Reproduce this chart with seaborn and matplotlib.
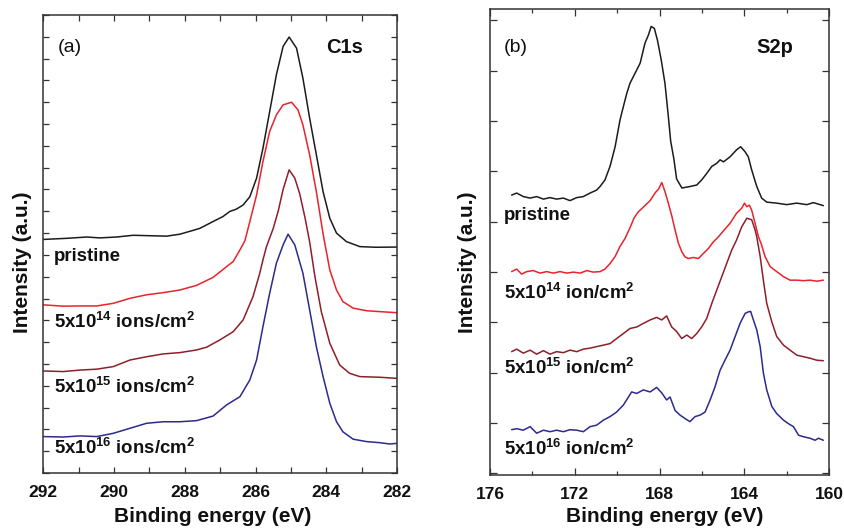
import matplotlib
matplotlib.use('Agg')
import matplotlib.pyplot as plt
import seaborn as sns
import pandas as pd
from matplotlib.ticker import MultipleLocator

# ---------------- data: C1s (panel a) ----------------
c1s_ticks = [292, 290, 288, 286, 284, 282]

c1s_pristine_E = [292.00, 291.34, 290.77, 290.40, 289.93, 289.46, 288.99, 288.51, 288.14, 287.86,
                  287.57, 287.20, 286.92, 286.73, 286.54, 286.35, 286.16, 285.97, 285.79, 285.60,
                  285.41, 285.22, 285.05, 284.84, 284.66, 284.47, 284.28, 284.09, 283.90, 283.71,
                  283.43, 283.05, 282.60, 282.00]
c1s_pristine_I = [10.71, 10.76, 10.82, 10.78, 10.82, 10.90, 10.88, 10.86, 10.95, 11.08,
                  11.22, 11.53, 11.76, 11.99, 12.10, 12.29, 12.67, 13.52, 14.89, 16.57,
                  18.26, 19.56, 19.99, 19.48, 18.10, 16.27, 14.59, 12.90, 11.68, 11.00,
                  10.61, 10.38, 10.35, 10.36]

c1s_e14_E = [292.00, 291.44, 290.96, 290.49, 290.02, 289.55, 289.08, 288.61, 288.14, 287.67,
             287.20, 286.82, 286.63, 286.44, 286.30, 286.16, 285.97, 285.79, 285.60, 285.41,
             285.22, 284.98, 284.80, 284.66, 284.47, 284.28, 284.09, 283.90, 283.71, 283.53,
             283.24, 282.86, 282.49, 282.00]
c1s_e14_I = [7.71, 7.65, 7.66, 7.66, 7.78, 8.01, 8.17, 8.27, 8.39, 8.60,
             8.97, 9.46, 9.70, 10.23, 10.65, 11.53, 12.75, 14.28, 15.66, 16.42,
             16.88, 17.00, 16.65, 15.96, 14.59, 12.90, 10.96, 9.31, 8.39, 7.86,
             7.56, 7.44, 7.40, 7.35]

c1s_e15_E = [292.00, 291.44, 290.96, 290.49, 290.02, 289.55, 289.08, 288.61, 288.14, 287.67,
             287.38, 287.01, 286.63, 286.35, 286.07, 285.88, 285.79, 285.69, 285.50, 285.36,
             285.22, 285.05, 284.89, 284.75, 284.60, 284.47, 284.32, 284.14, 283.90, 283.62,
             283.34, 283.05, 282.49, 282.00]
c1s_e15_I = [4.68, 4.65, 4.72, 4.76, 4.88, 5.18, 5.33, 5.46, 5.52, 5.64,
             5.77, 6.10, 6.48, 7.02, 8.09, 9.16, 9.77, 10.38, 11.21, 12.00,
             13.00, 13.90, 13.52, 12.80, 11.70, 10.60, 9.00, 7.40, 5.95, 4.95,
             4.57, 4.42, 4.39, 4.34]

c1s_e16_E = [292.00, 291.44, 290.96, 290.49, 290.02, 289.55, 289.08, 288.61, 288.14, 287.67,
             287.20, 286.82, 286.44, 286.16, 285.97, 285.79, 285.60, 285.41, 285.22, 285.08,
             284.89, 284.66, 284.47, 284.28, 284.09, 283.90, 283.71, 283.53, 283.24, 282.86,
             282.49, 282.20, 282.00]
c1s_e16_I = [1.67, 1.65, 1.70, 1.67, 1.82, 2.05, 2.28, 2.35, 2.35, 2.40,
             2.61, 3.12, 3.50, 4.27, 5.18, 6.71, 8.24, 9.62, 10.46, 10.95,
             10.46, 9.16, 7.48, 5.79, 4.42, 3.20, 2.35, 1.89, 1.55, 1.44,
             1.39, 1.33, 1.36]

# ---------------- data: S2p (panel b) ----------------
s2p_ticks = [176, 172, 168, 164, 160]

s2p_pristine_E = [174.98, 174.74, 174.43, 174.11, 173.80, 173.48, 173.17, 172.86, 172.54, 172.23,
                  171.91, 171.60, 171.28, 170.97, 170.81, 170.58, 170.34, 170.10, 169.87, 169.71,
                  169.55, 169.40, 169.16, 168.92, 168.69, 168.53, 168.40, 168.25, 168.10, 167.92,
                  167.75, 167.59, 167.48, 167.33, 167.20, 166.95, 166.57, 166.25, 166.02, 165.78,
                  165.54, 165.31, 165.15, 164.99, 164.68, 164.37, 164.18, 163.97, 163.82, 163.66,
                  163.42, 163.19, 162.95, 162.48, 162.01, 161.54, 161.06, 160.75, 160.28]
s2p_pristine_I = [5.53, 5.57, 5.50, 5.47, 5.50, 5.45, 5.48, 5.45, 5.47, 5.42,
                  5.48, 5.50, 5.57, 5.63, 5.70, 5.83, 6.10, 6.49, 7.02, 7.29,
                  7.55, 7.75, 7.95, 8.15, 8.55, 8.71, 8.88, 8.84, 8.60, 8.20,
                  7.75, 7.09, 6.60, 6.25, 5.85, 5.67, 5.70, 5.73, 5.83, 5.96,
                  6.10, 6.16, 6.23, 6.19, 6.29, 6.43, 6.49, 6.39, 6.29, 6.03,
                  5.70, 5.47, 5.39, 5.37, 5.34, 5.37, 5.34, 5.38, 5.32]

s2p_e14_E = [174.98, 174.74, 174.51, 174.27, 173.96, 173.64, 173.33, 173.01, 172.70, 172.38,
             172.07, 171.75, 171.44, 171.13, 170.81, 170.58, 170.34, 170.10, 169.87, 169.63,
             169.40, 169.20, 169.00, 168.77, 168.45, 168.20, 168.05, 167.90, 167.75, 167.59,
             167.43, 167.28, 167.12, 166.95, 166.80, 166.65, 166.41, 166.17, 165.94, 165.70,
             165.47, 165.23, 164.99, 164.68, 164.37, 164.13, 164.00, 163.89, 163.77, 163.66,
             163.50, 163.34, 163.20, 163.03, 162.79, 162.48, 162.16, 161.85, 161.53, 161.22,
             160.91, 160.59, 160.28]
s2p_e14_I = [4.01, 4.06, 3.96, 4.01, 4.03, 3.98, 4.01, 3.98, 4.01, 3.98,
             4.00, 3.98, 4.03, 4.00, 4.01, 4.06, 4.17, 4.31, 4.51, 4.67,
             4.88, 5.08, 5.20, 5.29, 5.42, 5.58, 5.65, 5.78, 5.60, 5.37,
             5.12, 4.85, 4.58, 4.40, 4.30, 4.27, 4.29, 4.27, 4.37, 4.47,
             4.60, 4.70, 4.82, 4.97, 5.17, 5.27, 5.37, 5.30, 5.33, 5.23,
             4.97, 4.70, 4.55, 4.31, 4.11, 4.01, 3.91, 3.84, 3.84, 3.83,
             3.84, 3.82, 3.84]

s2p_e15_E = [174.98, 174.74, 174.43, 174.11, 173.80, 173.48, 173.17, 172.86, 172.54, 172.23,
             171.91, 171.60, 171.28, 170.97, 170.65, 170.34, 170.03, 169.71, 169.40, 169.08,
             168.77, 168.45, 168.14, 167.90, 167.67, 167.51, 167.43, 167.20, 166.96, 166.72,
             166.49, 166.25, 166.02, 165.78, 165.54, 165.31, 165.07, 164.84, 164.60, 164.37,
             164.13, 163.89, 163.66, 163.50, 163.42, 163.26, 163.11, 162.95, 162.71, 162.48,
             162.16, 161.85, 161.53, 161.22, 160.91, 160.59, 160.28]
s2p_e15_I = [2.42, 2.47, 2.39, 2.45, 2.37, 2.44, 2.37, 2.42, 2.40, 2.45,
             2.42, 2.47, 2.49, 2.52, 2.55, 2.58, 2.68, 2.78, 2.88, 2.91,
             2.98, 3.05, 3.10, 3.05, 3.13, 2.98, 2.91, 2.82, 2.68, 2.75,
             2.68, 2.78, 2.91, 3.08, 3.38, 3.64, 3.91, 4.17, 4.44, 4.64,
             4.90, 5.07, 5.04, 4.84, 4.70, 4.31, 3.84, 3.38, 3.01, 2.72,
             2.55, 2.45, 2.35, 2.32, 2.29, 2.25, 2.24]

s2p_e16_E = [174.98, 174.74, 174.43, 174.11, 173.80, 173.48, 173.17, 172.86, 172.54, 172.23,
             171.91, 171.60, 171.28, 170.97, 170.65, 170.34, 170.03, 169.71, 169.47, 169.32,
             169.08, 168.77, 168.45, 168.14, 167.90, 167.67, 167.51, 167.27, 167.04, 166.80,
             166.57, 166.33, 166.09, 165.86, 165.62, 165.39, 165.15, 164.92, 164.68, 164.44,
             164.21, 163.97, 163.82, 163.71, 163.58, 163.42, 163.26, 163.11, 162.95, 162.71,
             162.48, 162.16, 161.93, 161.69, 161.45, 161.22, 160.91, 160.67, 160.51, 160.28]
s2p_e16_I = [0.87, 0.89, 0.86, 0.93, 0.80, 0.86, 0.83, 0.86, 0.83, 0.87,
             0.86, 0.83, 0.93, 0.96, 1.06, 1.13, 1.22, 1.36, 1.52, 1.62,
             1.59, 1.66, 1.62, 1.71, 1.60, 1.46, 1.52, 1.25, 1.16, 1.09,
             1.03, 1.13, 1.16, 1.22, 1.46, 1.72, 2.05, 2.25, 2.45, 2.72,
             2.98, 3.18, 3.21, 3.22, 3.05, 2.85, 2.52, 2.00, 1.66, 1.33,
             1.19, 1.06, 0.99, 0.93, 0.76, 0.73, 0.70, 0.66, 0.70, 0.66]

series_names = ['pristine', '5e14', '5e15', '5e16']
series_colors = {'pristine': '#1c1c1c', '5e14': '#e8232b', '5e15': '#8e1f2a', '5e16': '#2c2a8c'}

c1s_labels = ['pristine', r'5x10$^{14}$ ions/cm$^{2}$', r'5x10$^{15}$ ions/cm$^{2}$',
              r'5x10$^{16}$ ions/cm$^{2}$']
s2p_labels = ['pristine', r'5x10$^{14}$ ion/cm$^{2}$', r'5x10$^{15}$ ion/cm$^{2}$',
              r'5x10$^{16}$ ion/cm$^{2}$']

# ---------------- style ----------------
sns.set_theme(style='ticks')
plt.rcParams['font.family'] = ['Liberation Sans', 'DejaVu Sans']
plt.rcParams['mathtext.default'] = 'regular'

def frame(E_lists, I_lists):
    parts = []
    for name, e, i in zip(series_names, E_lists, I_lists):
        parts.append(pd.DataFrame({'E': e, 'I': i, 'sample': name}))
    return pd.concat(parts, ignore_index=True)

df_a = frame([c1s_pristine_E, c1s_e14_E, c1s_e15_E, c1s_e16_E],
             [c1s_pristine_I, c1s_e14_I, c1s_e15_I, c1s_e16_I])
df_b = frame([s2p_pristine_E, s2p_e14_E, s2p_e15_E, s2p_e16_E],
             [s2p_pristine_I, s2p_e14_I, s2p_e15_I, s2p_e16_I])

W, H = 844, 528
fig = plt.figure(figsize=(W / 100, H / 100), dpi=100)
ax1 = fig.add_axes([43.3 / W, 1 - 473 / H, 353.7 / W, 458 / H])
ax2 = fig.add_axes([490 / W, 1 - 475 / H, 339.3 / W, 465.7 / H])

for ax, df in ((ax1, df_a), (ax2, df_b)):
    sns.lineplot(data=df, x='E', y='I', hue='sample', palette=series_colors,
                 estimator=None, legend=False, lw=1.1, ax=ax)

spine_col = '#333333'
for ax in (ax1, ax2):
    for s in ax.spines.values():
        s.set_color(spine_col)
        s.set_linewidth(1.1)
    ax.tick_params(axis='both', which='both', direction='in', top=True, right=True,
                   color=spine_col, width=0.9, labelleft=False, pad=8.5)
    ax.set_ylabel('Intensity (a.u.)', fontsize=15, fontweight='bold', color='#111111', va='center')
    ax.set_xlabel('Binding energy (eV)', fontsize=15, fontweight='bold', color='#111111', va='baseline')

# panel a axes
ax1.set_xlim(292, 282)
ax1.set_ylim(0, 21)
ax1.set_xticks(c1s_ticks)
ax1.set_xticklabels([str(t) for t in c1s_ticks], fontsize=12.5, fontweight='bold', color='#111111')
ax1.xaxis.set_minor_locator(MultipleLocator(1))
ax1.yaxis.set_major_locator(MultipleLocator(1))
ax1.tick_params(axis='both', which='both', length=4)
ax1.yaxis.set_label_coords(-0.058, 0.46)
ax1.xaxis.set_label_coords(0.478, -0.106)

# panel b axes
ax2.set_xlim(176, 160)
ax2.set_ylim(-0.03, 9.22)
ax2.set_xticks(s2p_ticks)
ax2.set_xticklabels([str(t) for t in s2p_ticks], fontsize=12.5, fontweight='bold', color='#111111')
ax2.xaxis.set_minor_locator(MultipleLocator(2))
ax2.yaxis.set_major_locator(MultipleLocator(1))
ax2.tick_params(axis='both', which='major', length=5)
ax2.tick_params(axis='both', which='minor', length=3)
ax2.yaxis.set_label_coords(-0.066, 0.456)
ax2.xaxis.set_label_coords(0.516, -0.100)

# annotations
txt = dict(color='#111111', va='center', ha='left')
ax1.text(0.042, 0.930, '(a)', transform=ax1.transAxes, fontsize=14, **txt)
ax1.text(0.799, 0.930, 'C1s', transform=ax1.transAxes, fontsize=14.5, fontweight='bold', **txt)
for lab, y in zip(c1s_labels, [0.472, 0.330, 0.188, 0.054]):
    ax1.text(0.031, y, lab, transform=ax1.transAxes, fontsize=13.4, fontweight='bold', **txt)

ax2.text(0.040, 0.917, '(b)', transform=ax2.transAxes, fontsize=14, **txt)
ax2.text(0.784, 0.917, 'S2p', transform=ax2.transAxes, fontsize=14.5, fontweight='bold', **txt)
for lab, y in zip(s2p_labels, [0.558, 0.390, 0.229, 0.057]):
    ax2.text(0.042, y, lab, transform=ax2.transAxes, fontsize=13.4, fontweight='bold', **txt)

fig.savefig('out.png', dpi=100)
